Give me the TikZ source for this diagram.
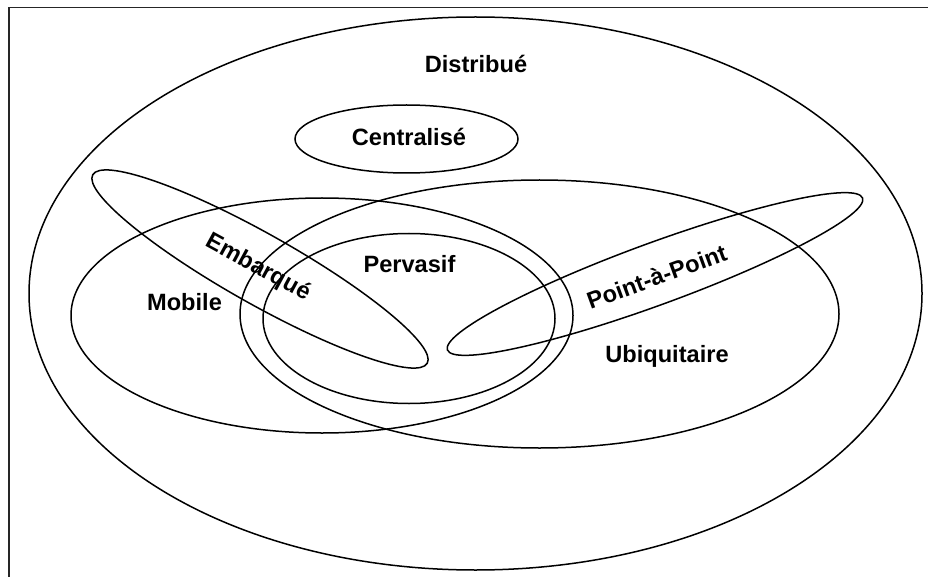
\documentclass[tikz,border=0pt]{standalone}
\usepackage{fontspec}
\setmainfont{Liberation Sans}
\begin{document}
\begin{tikzpicture}[x=1pt,y=-1pt,
  setline/.style={line width=1.5pt, draw=black},
  lbl/.style={font=\fontsize{23.6}{28}\selectfont\bfseries, inner sep=0pt, text=black}]
\useasboundingbox (0,0) rectangle (928,577);
\coordinate (fb) at (9,577);
\coordinate (fc) at (9,7.5);
\coordinate (fr) at (928,7.5);
\draw[line width=1.2pt, black!85] (fb) -- (fc) -- (fr);
% sets
\draw[setline] (475.5,293.5) ellipse (446.5pt and 276.5pt);
\draw[setline] (406.5,139) ellipse (111.5pt and 34pt);
\draw[setline] (322,315.5) ellipse (251pt and 117.5pt);
\draw[setline] (539.5,314) ellipse (299.5pt and 134pt);
\draw[setline] (409,318.5) ellipse (146pt and 85pt);
\draw[setline, rotate around={-29.4:(260,269)}] (260,269) ellipse (192pt and 35pt);
\draw[setline, rotate around={20.1:(655,274)}] (655,274) ellipse (221pt and 31pt);
% labels
\node[lbl, anchor=base] (distribue) at (476,72.7) {Distribué};
\node[lbl, anchor=base] (centralise) at (409,146) {Centralisé};
\node[lbl, anchor=base] (mobile) at (184.5,310.7) {Mobile};
\node[lbl, anchor=base] (pervasif) at (409.5,272) {Pervasif};
\node[lbl, anchor=base] (ubiquitaire) at (667,362) {Ubiquitaire};
\node[lbl, rotate=-28.5] (embarque) at (258,268) {Embarqué};
\node[lbl, rotate=20] (pointapoint) at (656.7,276.7) {Point-à-Point};
\end{tikzpicture}
\end{document}
